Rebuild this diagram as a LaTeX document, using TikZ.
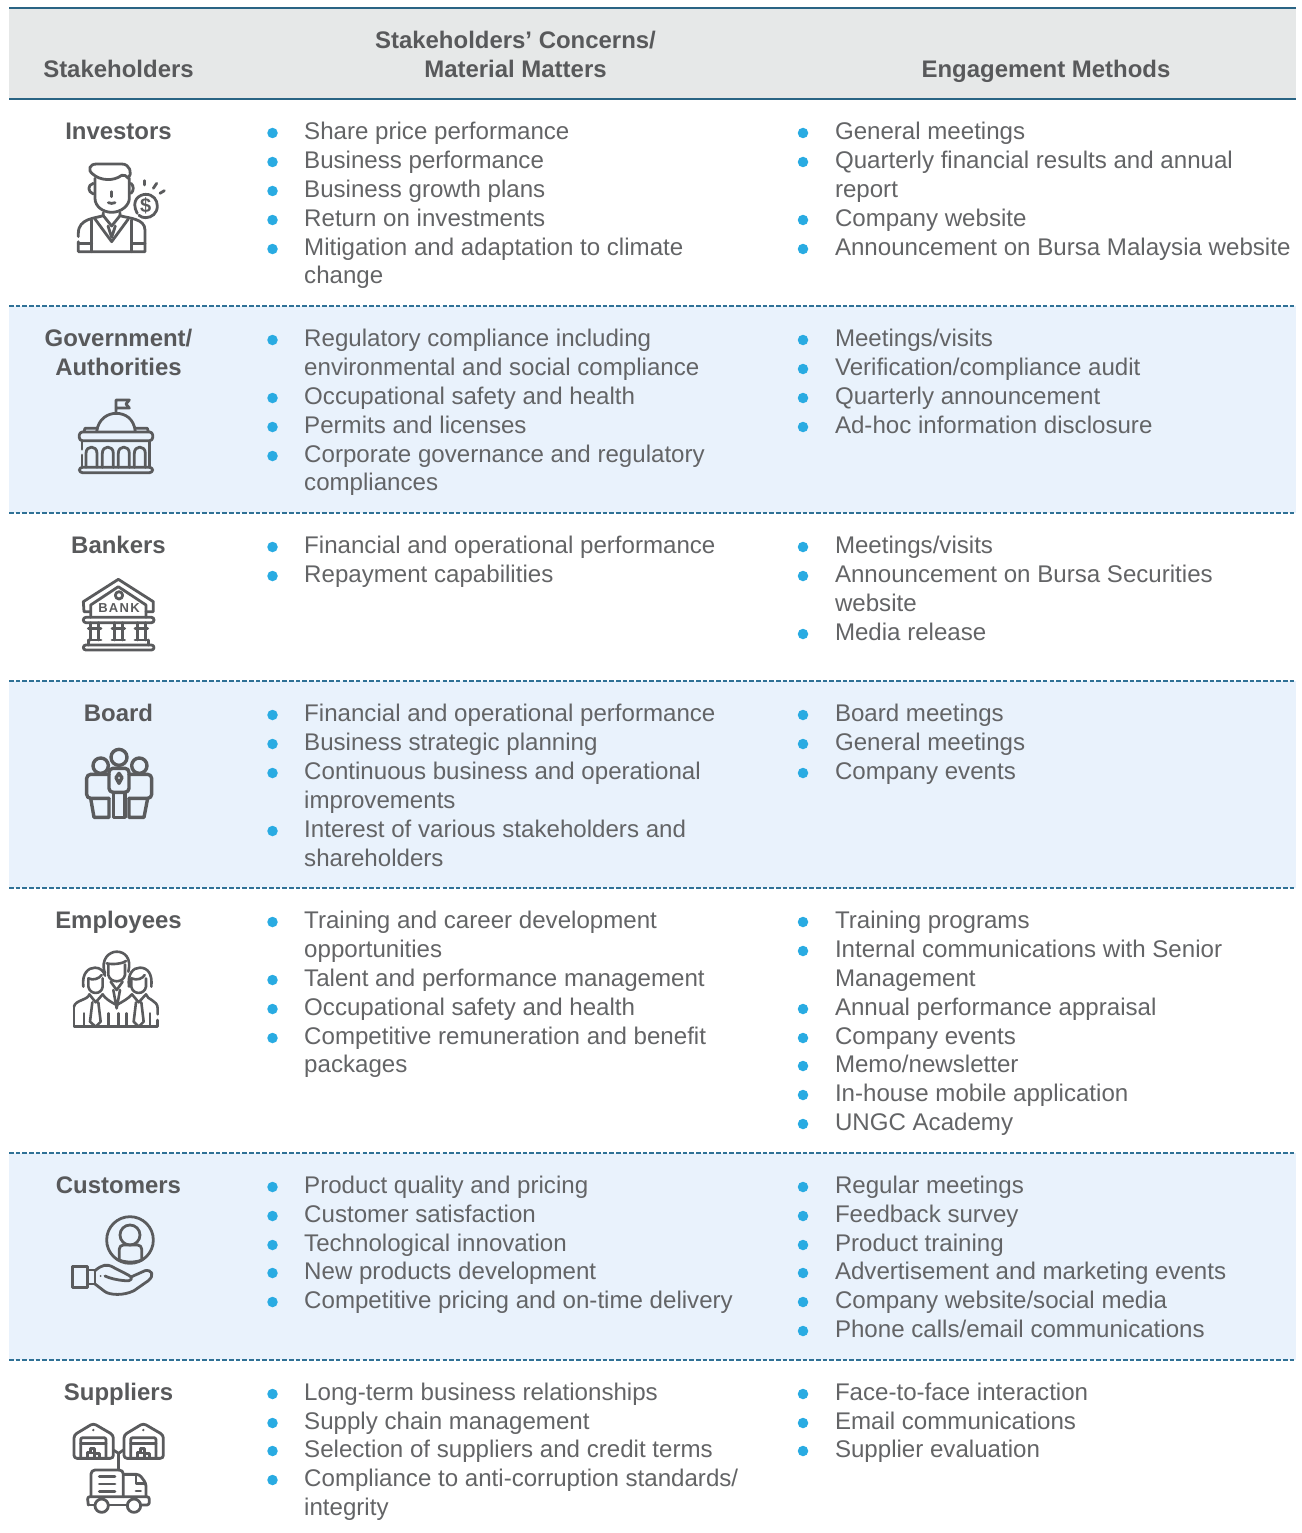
\documentclass[tikz,border=0pt]{standalone}
\usepackage{fontspec}
\setmainfont{Liberation Sans}
\definecolor{txtgray}{HTML}{636466}
\definecolor{boldgray}{HTML}{58595B}
\definecolor{icongray}{HTML}{5A5B5D}
\definecolor{bulletblue}{HTML}{29ABE2}
\definecolor{rowblue}{HTML}{E9F2FC}
\definecolor{headgray}{HTML}{E6E8E8}
\definecolor{ruleblue}{HTML}{2A6484}
\definecolor{dashblue}{HTML}{2F7196}
\newcount\nodecnt
\newcommand{\fresh}{\global\advance\nodecnt by 1 }
\newcommand{\PutText}[3]{\fresh\node[bodytxt] (t\the\nodecnt) at (#1,#2+8.5) {#3};}
\newcommand{\PutDot}[2]{\fresh\node[bulletdot] (b\the\nodecnt) at (#1,#2+2) {};}
\newcommand{\ColB}[2]{\PutDot{272.5}{#1}\PutText{304}{#1}{#2}}
\newcommand{\ColN}[2]{\PutText{304}{#1}{#2}}
\newcommand{\EngB}[2]{\PutDot{803}{#1}\PutText{834.8}{#1}{#2}}
\newcommand{\EngN}[2]{\PutText{834.8}{#1}{#2}}
\newcommand{\Hdr}[3]{\fresh\node[headtxt] (h\the\nodecnt) at (#1,#2+8.5) {#3};}
\tikzset{
  bodytxt/.style={anchor=base west,inner sep=0pt,text=txtgray,font=\fontsize{24.1}{29}\selectfont},
  headtxt/.style={anchor=base,inner sep=0pt,text=boldgray,font=\fontsize{23.95}{29}\selectfont\bfseries},
  bulletdot/.style={circle,fill=bulletblue,inner sep=0pt,minimum size=10.5pt},
  rowline/.style={dashblue,line width=1.5pt,dash pattern=on 4.6pt off 2.07pt},
  headline/.style={ruleblue,line width=1.7pt},
  icon/.style={icongray,line width=2.8pt,line cap=round,line join=round},
}
\begin{document}
\begin{tikzpicture}[x=1pt,y=-1pt]
\useasboundingbox (0,0) rectangle (1301,1533);
% backgrounds
\fill[headgray] (9,8) rectangle (1296,99);
\fill[rowblue] (9,306) rectangle (1296,513);
\fill[rowblue] (9,681) rectangle (1296,888);
\fill[rowblue] (9,1153) rectangle (1296,1360);
\draw[headline] (9,8) -- (1296,8);
\draw[headline] (9,99) -- (1296,99);
\foreach \yy in {306,513,681,888,1153,1360} \draw[rowline] (9,\yy) -- (1296,\yy);
% header
\Hdr{118.5}{69}{Stakeholders}
\Hdr{515.5}{40}{Stakeholders’ Concerns/}
\Hdr{515.5}{69}{Material Matters}
\Hdr{1046}{69}{Engagement Methods}
% stakeholder names
\Hdr{118.5}{131}{Investors}
\Hdr{118.5}{338}{Government/}
\Hdr{118.5}{367}{Authorities}
\Hdr{118.5}{545}{Bankers}
\Hdr{118.5}{713}{Board}
\Hdr{118.5}{920}{Employees}
\Hdr{118.5}{1185}{Customers}
\Hdr{118.5}{1392}{Suppliers}
% Investors
\ColB{131}{Share price performance}
\ColB{160}{Business performance}
\ColB{189}{Business growth plans}
\ColB{218}{Return on investments}
\ColB{247}{Mitigation and adaptation to climate}
\ColN{275}{change}
\EngB{131}{General meetings}
\EngB{160}{Quarterly financial results and annual}
\EngN{189}{report}
\EngB{218}{Company website}
\EngB{247}{Announcement on Bursa Malaysia website}
% Government
\ColB{338}{Regulatory compliance including}
\ColN{367}{environmental and social compliance}
\ColB{396}{Occupational safety and health}
\ColB{425}{Permits and licenses}
\ColB{454}{Corporate governance and regulatory}
\ColN{482}{compliances}
\EngB{338}{Meetings/visits}
\EngB{367}{Verification/compliance audit}
\EngB{396}{Quarterly announcement}
\EngB{425}{Ad-hoc information disclosure}
% Bankers
\ColB{545}{Financial and operational performance}
\ColB{574}{Repayment capabilities}
\EngB{545}{Meetings/visits}
\EngB{574}{Announcement on Bursa Securities}
\EngN{603}{website}
\EngB{632}{Media release}
% Board
\ColB{713}{Financial and operational performance}
\ColB{742}{Business strategic planning}
\ColB{771}{Continuous business and operational}
\ColN{800}{improvements}
\ColB{829}{Interest of various stakeholders and}
\ColN{858}{shareholders}
\EngB{713}{Board meetings}
\EngB{742}{General meetings}
\EngB{771}{Company events}
% Employees
\ColB{920}{Training and career development}
\ColN{949}{opportunities}
\ColB{978}{Talent and performance management}
\ColB{1007}{Occupational safety and health}
\ColB{1036}{Competitive remuneration and benefit}
\ColN{1064}{packages}
\EngB{920}{Training programs}
\EngB{949}{Internal communications with Senior}
\EngN{978}{Management}
\EngB{1007}{Annual performance appraisal}
\EngB{1036}{Company events}
\EngB{1064}{Memo/newsletter}
\EngB{1093}{In-house mobile application}
\EngB{1122}{UNGC Academy}
% Customers
\ColB{1185}{Product quality and pricing}
\ColB{1214}{Customer satisfaction}
\ColB{1243}{Technological innovation}
\ColB{1271}{New products development}
\ColB{1300}{Competitive pricing and on-time delivery}
\EngB{1185}{Regular meetings}
\EngB{1214}{Feedback survey}
\EngB{1243}{Product training}
\EngB{1271}{Advertisement and marketing events}
\EngB{1300}{Company website/social media}
\EngB{1329}{Phone calls/email communications}
% Suppliers
\ColB{1392}{Long-term business relationships}
\ColB{1421}{Supply chain management}
\ColB{1449}{Selection of suppliers and credit terms}
\ColB{1478}{Compliance to anti-corruption standards/}
\ColN{1507}{integrity}
\EngB{1392}{Face-to-face interaction}
\EngB{1421}{Email communications}
\EngB{1449}{Supplier evaluation}
% ---- Icon: investor
\begin{scope}[shift={(50,150)},scale=1/3,icon]
\draw (128,72) .. controls (112,60) and (118,42) .. (140,42) -- (215,42) .. controls (240,42) and (248,70) .. (235,85) .. controls (228,78) and (222,72) .. (215,76) .. controls (190,95) and (150,92) .. (128,72);
\draw (135,85) -- (135,145) .. controls (135,170) and (160,187) .. (185,187) .. controls (215,187) and (238,165) .. (238,145) -- (238,85);
\draw (130,100) .. controls (112,105) and (112,125) .. (130,132);
\draw (243,100) .. controls (252,108) and (252,122) .. (243,130);
\draw (185,125) -- (185,140);
\draw (175,158) .. controls (180,161) and (190,161) .. (195,158);
\draw (262,190) .. controls (240,150) and (270,133) .. (287,133) .. controls (310,133) and (322,150) .. (322,168) .. controls (322,190) and (305,203) .. (287,203) .. controls (280,203) and (272,201) .. (267,196);
\node[inner sep=0pt,text=icongray,font=\fontsize{20}{20}\selectfont\bfseries] (dollar) at (287,168) {\$};
\draw (283,92) -- (283,105);
\draw (320,100) -- (310,115);
\draw (343,122) -- (330,130);
\draw (160,188) -- (160,197) .. controls (135,205) and (85,205) .. (85,250) -- (85,260);
\draw (85,275) -- (85,305) -- (285,305) -- (285,240) .. controls (285,205) and (235,205) .. (210,197) -- (210,188);
\draw (125,210) -- (125,305);
\draw (245,210) -- (245,305);
\draw (85,280) -- (125,280);
\draw (245,280) -- (285,280);
\draw (135,207) -- (185,275) -- (235,207);
\draw (160,197) -- (185,228) -- (210,197);
\draw (174,228) -- (185,262) -- (196,228);
\end{scope}
% ---- Icon: government
\begin{scope}[shift={(60,390)},scale=1/3,icon]
\draw (168,68) -- (168,30) -- (208,30) -- (198,42) -- (208,54) -- (168,54);
\draw (110,125) .. controls (115,85) and (145,70) .. (168,70) .. controls (195,70) and (222,85) .. (226,125);
\draw (72,125) -- (75,115) -- (108,115);
\draw (228,115) -- (262,115) -- (265,125);
\draw[rounded corners=3pt] (58,126) rectangle (278,152);
\foreach \ax in {78,127,175,223}
  \draw (\ax,232) -- (\ax,190) .. controls (\ax,165) and (\ax+33,165) .. (\ax+33,190) -- (\ax+33,232);
\draw (66,155) -- (66,178);
\draw (66,195) -- (66,232);
\draw (268,155) -- (268,232);
\draw[rounded corners=3pt] (58,232) rectangle (278,248);
\end{scope}
% ---- Icon: bank
\begin{scope}[shift={(60,570)},scale=1/3,icon]
\draw (92,125) -- (72,125) -- (70,95) -- (175,28) -- (280,95) -- (280,125) -- (258,125);
\draw (92,142) -- (92,105) -- (175,50) -- (258,105) -- (258,142);
\draw (177,76) circle[radius=11];
\foreach \lx/\ch/\nm in {129/B/lb,161/A/la,193/N/ln,225/K/lk}
  \node[inner sep=0pt,text=icongray,font=\fontsize{13}{13}\selectfont\bfseries] (bank\nm) at (\lx,114) {\ch};
\draw[rounded corners=2.5pt] (70,142) rectangle (282,158);
\foreach \cx in {104,175,244} {
  \draw (\cx-12,158) -- (\cx-12,210);
  \draw (\cx+12,158) -- (\cx+12,210);
  \draw (\cx-19,175) -- (\cx+19,175);
  \draw (\cx-19,210) -- (\cx+19,210);
}
\draw (85,210) -- (85,225);
\draw (265,210) -- (265,225);
\draw[rounded corners=2.5pt] (70,225) rectangle (282,240);
\end{scope}
% ---- Icon: board
\begin{scope}[shift={(60,740)},scale=1/3,icon,line width=3.4pt]
\draw (177,52) circle[radius=24];
\draw (122,77) circle[radius=23];
\draw (238,77) circle[radius=23];
\draw[rounded corners=4pt] (147,85) rectangle (207,157);
\draw[rounded corners=4pt] (147,103) -- (80,103) -- (80,175) -- (147,175);
\draw[rounded corners=4pt] (207,103) -- (275,103) -- (275,175) -- (207,175);
\draw (177,100) -- (186,113) -- (177,130) -- (168,113) -- cycle;
\draw (92,175) -- (102,232) -- (147,232) -- (147,175);
\draw (160,157) -- (160,232) -- (195,232) -- (195,157);
\draw (207,175) -- (207,232) -- (252,232) -- (263,175);
\end{scope}
% ---- Icon: employees
\begin{scope}[shift={(60,945)},scale=1/3,icon,line width=2.6pt]
% back centre figure
\draw (135,85) .. controls (120,40) and (150,20) .. (170,20) .. controls (195,20) and (215,40) .. (205,80);
\draw (140,55) .. controls (160,60) and (190,55) .. (198,48);
\draw (145,58) -- (145,90) .. controls (150,115) and (190,115) .. (195,90) -- (195,58);
\draw (152,110) -- (170,135) -- (188,110);
\draw (160,135) -- (170,190) -- (180,135);
% left figure
\draw (70,125) .. controls (65,85) and (85,68) .. (105,68) .. controls (120,68) and (132,78) .. (135,92);
\draw (85,100) -- (85,125) .. controls (90,150) and (125,150) .. (128,125) -- (128,100);
\draw (85,100) .. controls (100,108) and (118,100) .. (125,90);
\draw (42,185) .. controls (45,165) and (85,165) .. (88,148);
\draw (88,148) -- (107,172) -- (128,148);
\draw (97,172) -- (90,230) -- (107,245) -- (122,230) -- (115,172);
\draw (128,148) .. controls (135,160) and (150,170) .. (170,180);
\draw (42,185) -- (42,245) -- (293,245) -- (293,225);
% right figure
\draw (207,125) .. controls (202,85) and (220,68) .. (240,68) .. controls (262,68) and (278,85) .. (274,125);
\draw (214,100) -- (214,125) .. controls (218,150) and (254,150) .. (258,125) -- (258,100);
\draw (214,100) .. controls (231,108) and (249,100) .. (254,90);
\draw (216,148) -- (236,172) -- (258,148);
\draw (228,172) -- (221,230) -- (236,245) -- (251,230) -- (244,172);
\draw (258,148) .. controls (261,165) and (293,165) .. (293,190) -- (293,208);
\draw (216,148) .. controls (206,160) and (188,170) .. (170,180);
\foreach \vx in {72,145,175,200,270} \draw (\vx,205) -- (\vx,245);
\end{scope}
% ---- Icon: customers
\begin{scope}[shift={(60,1210)},scale=1/3,icon]
\draw (210,90) circle[radius=70];
\draw (210,75) circle[radius=30];
\draw[rounded corners=4pt] (178,150) -- (178,105) -- (245,105) -- (245,150);
\draw (178,150) .. controls (195,158) and (228,158) .. (245,150);
\draw (38,170) rectangle (82,232);
\draw (82,180) -- (105,180) -- (105,222) -- (82,222);
\draw (105,182) .. controls (125,165) and (140,160) .. (160,172) -- (205,195) .. controls (222,203) and (215,215) .. (195,212) .. controls (170,210) and (150,205) .. (135,198);
\draw (215,200) -- (255,182) .. controls (275,178) and (285,195) .. (265,212) -- (222,242) .. controls (190,258) and (150,255) .. (135,245) -- (105,222);
\fill[icongray] (122,198) circle[radius=3];
\end{scope}
% ---- Icon: suppliers
\begin{scope}[shift={(60,1415)},scale=1/3,icon]
\foreach \wx in {0,150} {
 \begin{scope}[shift={(\wx,0)}]
 \draw[rounded corners=3pt] (42,130) -- (42,60) -- (100,25) -- (160,60) -- (160,130) -- cycle;
 \draw[rounded corners=2pt] (62,130) -- (62,68) -- (138,68) -- (138,130);
 \draw (62,85) -- (138,85);
 \fill[icongray] (100,45) circle[radius=4];
 \draw (82,130) -- (82,112) -- (92,112);
 \draw (92,100) rectangle (104,114);
 \draw (104,130) -- (104,116) -- (118,116) -- (118,130);
 \end{scope}
}
\draw (160,105) -- (176,115) -- (190,105);
\draw (176,115) -- (176,165);
\draw[rounded corners=4pt] (93,245) -- (93,165) -- (190,165) -- (190,245);
\draw (118,185) -- (165,185);
\draw (118,207) -- (165,207);
\draw (118,230) -- (165,230);
\draw[rounded corners=3pt] (190,178) -- (238,178) -- (258,205) -- (258,245);
\draw (228,180) -- (228,205) -- (255,205);
\draw (228,228) -- (242,228);
\draw[rounded corners=2.5pt] (85,270) -- (82,245) -- (268,245) -- (268,270) -- (245,270);
\draw (85,270) -- (103,270);
\draw (147,270) -- (200,270);
\draw (125,272) circle[radius=20];
\draw (222,272) circle[radius=20];
\end{scope}
\end{tikzpicture}
\end{document}
